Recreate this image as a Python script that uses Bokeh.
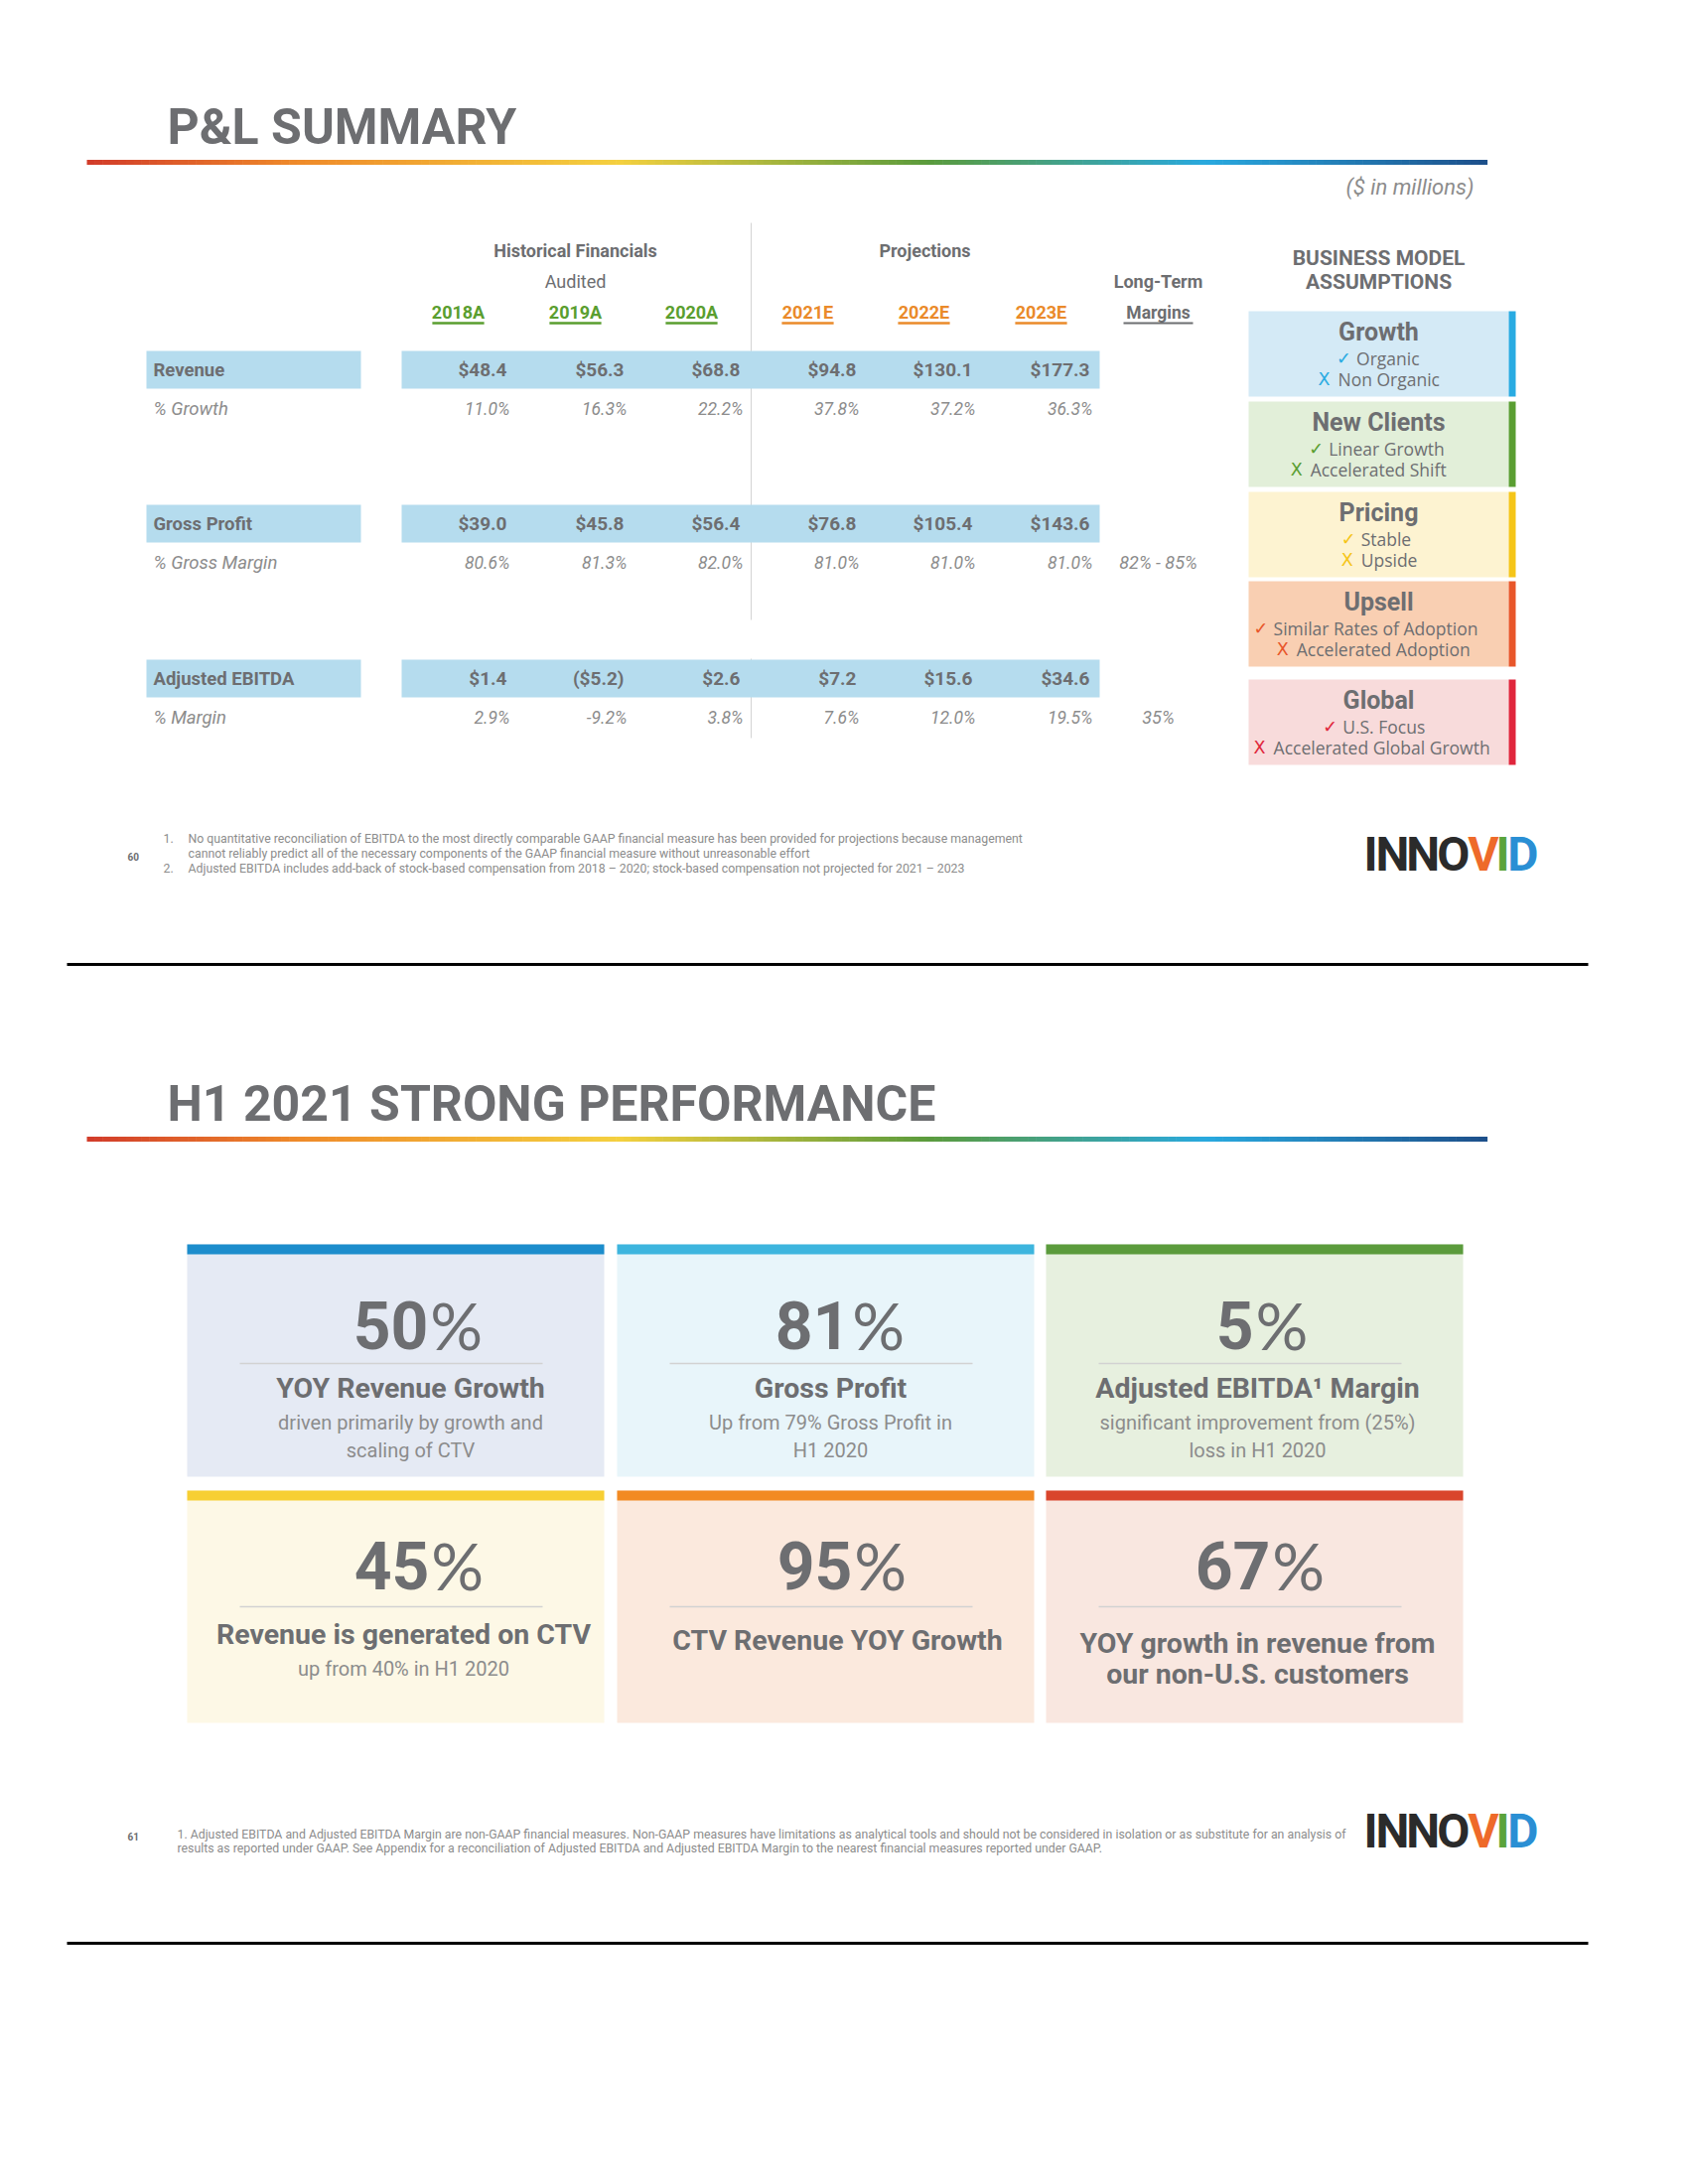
from bokeh.plotting import figure
from bokeh.models import Range1d
from bokeh.embed import file_html
from bokeh.resources import INLINE
from bokeh.core.properties import value

# ---------------- DATA ----------------
years = ["2018A", "2019A", "2020A", "2021E", "2022E", "2023E"]
year_is_actual = [True, True, True, False, False, False]
revenue = [48.4, 56.3, 68.8, 94.8, 130.1, 177.3]
revenue_growth = [11.0, 16.3, 22.2, 37.8, 37.2, 36.3]
gross_profit = [39.0, 45.8, 56.4, 76.8, 105.4, 143.6]
gross_margin = [80.6, 81.3, 82.0, 81.0, 81.0, 81.0]
adj_ebitda = [1.4, -5.2, 2.6, 7.2, 15.6, 34.6]
ebitda_margin = [2.9, -9.2, 3.8, 7.6, 12.0, 19.5]
row_labels = ["Revenue", "Gross Profit", "Adjusted EBITDA"]
sub_labels = ["% Growth", "% Gross Margin", "% Margin"]
long_term = ["", "82% - 85%", "35%"]

assump_titles = ["Growth", "New Clients", "Pricing", "Upsell", "Global"]
assump_yes = ["Organic", "Linear Growth", "Stable", "Similar Rates of Adoption", "U.S. Focus"]
assump_no = ["Non Organic", "Accelerated Shift", "Upside", "Accelerated Adoption", "Accelerated Global Growth"]

kpi_values = [50, 81, 5, 45, 95, 67]
kpi_heads = [["YOY Revenue Growth"], ["Gross Profit"], ["Adjusted EBITDA\u00b9 Margin"],
             ["Revenue is generated on CTV"], ["CTV Revenue YOY Growth"],
             ["YOY growth in revenue from", "our non-U.S. customers"]]
kpi_subs = [["driven primarily by growth and", "scaling of CTV"],
            ["Up from 79% Gross Profit in", "H1 2020"],
            ["significant improvement from (25%)", "loss in H1 2020"],
            ["up from 40% in H1 2020"], [], []]

foot1 = [("1.", "No quantitative reconciliation of EBITDA to the most directly comparable GAAP financial measure has been provided for projections because management"),
         ("", "cannot reliably predict all of the necessary components of the GAAP financial measure without unreasonable effort"),
         ("2.", "Adjusted EBITDA includes add-back of stock-based compensation from 2018 \u2013 2020; stock-based compensation not projected for 2021 \u2013 2023")]
foot2 = ["1. Adjusted EBITDA and Adjusted EBITDA Margin are non-GAAP financial measures. Non-GAAP measures have limitations as analytical tools and should not be considered in isolation or as substitute for an analysis of",
         "results as reported under GAAP. See Appendix for a reconciliation of Adjusted EBITDA and Adjusted EBITDA Margin to the nearest financial measures reported under GAAP."]

# ---------------- STYLE ----------------
GRAY = "#6d6e71"
LGRAY = "#8c8c8c"
FONT = "Roboto"
GREEN = "#5a9e2f"
ORANGE = "#ea8a2a"
BAR = "#b5dcee"
assump_bg = ["#d4eaf6", "#e2efd9", "#fdf3d1", "#f9cfb2", "#f8dbdb"]
assump_strip = ["#29abe2", "#5a9e32", "#f5c518", "#e8562a", "#e0263c"]
card_bg = ["#e5eaf4", "#e8f5fa", "#e7f0df", "#fdf8e6", "#fbe9dd", "#f9e7e0"]
card_strip = ["#1c8dcc", "#3db5de", "#5b9b3c", "#f7cf33", "#f28a22", "#d9452c"]
content_dx = [15, 5, 3, 8, 12, 3]
num_dx = [19, 11, 4, 20, 13, 2]
grad_stops = [(0.0, "#d13b2a"), (0.15, "#ef8a2a"), (0.38, "#f4d03f"), (0.6, "#5b9b3c"),
              (0.8, "#29a9df"), (1.0, "#1d4f8a")]

W, H = 1684, 2184
p = figure(width=W, height=H, x_range=Range1d(0, W), y_range=Range1d(H, 0),
           output_backend="svg", toolbar_location=None, min_border=0,
           x_axis_location=None, y_axis_location=None)
p.grid.visible = False
p.outline_line_color = None
p.background_fill_color = "white"
p.border_fill_color = "white"


def txt(x, y, s, size, color=GRAY, style="normal", align="left", font=FONT):
    p.text(x=[x], y=[y], text=[s], text_font=value(font), text_font_size=f"{size}px",
           text_color=color, text_font_style=style, text_align=align, text_baseline="middle")


def est_w(s, fs, k=0.52):
    return len(s) * fs * k


def hexmix(c1, c2, t):
    a = [int(c1[i:i + 2], 16) for i in (1, 3, 5)]
    b = [int(c2[i:i + 2], 16) for i in (1, 3, 5)]
    return "#" + "".join(f"{int(round(a[i] + (b[i] - a[i]) * t)):02x}" for i in range(3))


def gradient_rule(y, x0=87, x1=1497, th=5, n=180):
    lefts, rights, cols = [], [], []
    for i in range(n):
        t = (i + 0.5) / n
        for j in range(len(grad_stops) - 1):
            if grad_stops[j][0] <= t <= grad_stops[j + 1][0]:
                tt = (t - grad_stops[j][0]) / (grad_stops[j + 1][0] - grad_stops[j][0])
                cols.append(hexmix(grad_stops[j][1], grad_stops[j + 1][1], tt))
                break
        lefts.append(x0 + (x1 - x0) * i / n)
        rights.append(x0 + (x1 - x0) * (i + 1) / n + 0.6)
    p.quad(left=lefts, right=rights, top=[y - th / 2] * n, bottom=[y + th / 2] * n,
           fill_color=cols, line_color=None)


def logo(x0, yc, fs=48):
    letters = [("I", .27, "#2b2b2b"), ("N", .70, "#2b2b2b"), ("N", .70, "#2b2b2b"), ("O", .70, "#2b2b2b"),
               ("V", .64, "#ee6a2a"), ("I", .27, "#5aa43c"), ("D", .66, "#2a8fd4")]
    x = x0
    for ch, adv, col in letters:
        txt(x, yc, ch, fs, col, "bold", "left")
        x += adv * fs * 0.92


def fmt_money(v):
    return f"(${abs(v):.1f})" if v < 0 else f"${v:.1f}"


# ================= SLIDE 1 =================
txt(168, 127, "P&L SUMMARY", 50, GRAY, "bold", "left")
gradient_rule(163)
txt(1484, 188, "($ in millions)", 22, LGRAY, "italic", "right")

col_x = [461, 579, 696, 813, 930, 1048]
lt_x = 1166
# vertical divider
p.segment(x0=[756, 756], y0=[224, 663], x1=[756, 756], y1=[624, 743], line_color="#d4d4d4", line_width=1)

txt(579, 252, "Historical Financials", 18, GRAY, "bold", "center")
txt(579, 283, "Audited", 18, GRAY, "normal", "center")
txt(931, 252, "Projections", 18, GRAY, "bold", "center")
txt(lt_x, 283, "Long-Term", 18, GRAY, "bold", "center")
txt(lt_x, 314, "Margins", 17.5, GRAY, "bold", "center")
p.segment(x0=[lt_x - 35], y0=[325], x1=[lt_x + 35], y1=[325], line_color=GRAY, line_width=2)
for i, yl in enumerate(years):
    c = GREEN if year_is_actual[i] else ORANGE
    txt(col_x[i], 314, yl, 18, c, "bold", "center")
    w = est_w(yl, 18, 0.58)
    p.segment(x0=[col_x[i] - w / 2], y0=[325], x1=[col_x[i] + w / 2], y1=[325], line_color=c, line_width=2.5)

row_y = [372, 527, 683]
main_vals = [revenue, gross_profit, adj_ebitda]
pct_vals = [revenue_growth, gross_margin, ebitda_margin]
for r in range(3):
    y = row_y[r]
    p.quad(left=[147], right=[363], top=[y - 19], bottom=[y + 19], fill_color=BAR, line_color=None)
    p.quad(left=[404], right=[1107], top=[y - 19], bottom=[y + 19], fill_color=BAR, line_color=None)
    txt(154, y, row_labels[r], 18.5, GRAY, "bold")
    txt(154, y + 39, sub_labels[r], 18.5, LGRAY, "italic")
    for i in range(6):
        txt(col_x[i] + 49, y, fmt_money(main_vals[r][i]), 19, GRAY, "bold", "right")
        txt(col_x[i] + 52, y + 39, f"{pct_vals[r][i]:.1f}%", 17.5, LGRAY, "italic", "right")
    if long_term[r]:
        txt(lt_x, y + 39, long_term[r], 18, LGRAY, "italic", "center")

# Business model assumptions
bx0, bx1 = 1257, 1519
bcx = (bx0 + bx1) / 2
txt(bcx, 259, "BUSINESS MODEL", 21, GRAY, "bold", "center")
txt(bcx, 283, "ASSUMPTIONS", 21, GRAY, "bold", "center")
box_tops = [313, 404, 495, 585, 684]
BOX_H = 86
for k in range(5):
    t = box_tops[k]
    p.quad(left=[bx0], right=[bx1], top=[t], bottom=[t + BOX_H], fill_color=assump_bg[k], line_color=None)
    p.quad(left=[bx1], right=[bx1 + 7], top=[t], bottom=[t + BOX_H], fill_color=assump_strip[k], line_color=None)
    txt(bcx, t + 21, assump_titles[k], 25, GRAY, "bold", "center")
    for j, (mark, item) in enumerate([("\u2713", assump_yes[k]), ("X", assump_no[k])]):
        fs = 17.5
        tw = est_w(item, fs, 0.53)
        mw = 20
        start = bcx - (tw + mw) / 2
        yy = t + 47 + j * 21
        txt(start, yy, mark, fs, assump_strip[k], "normal", "left", "DejaVu Sans")
        txt(start + mw, yy, item, fs, GRAY, "normal", "left", "Open Sans")

# footnotes slide 1
txt(128, 862, "60", 10, GRAY, "bold")
for i, (num, line) in enumerate(foot1):
    yy = 844 + i * 15
    if num:
        txt(164, yy, num, 12.3, LGRAY)
    txt(189, yy, line, 12.3, LGRAY)
logo(1373, 860)

p.segment(x0=[67], y0=[971], x1=[1599], y1=[971], line_color="black", line_width=3)

# ================= SLIDE 2 =================
txt(168, 1111, "H1 2021 STRONG PERFORMANCE", 50, GRAY, "bold", "left")
gradient_rule(1147)

card_x = [(188, 608), (621, 1041), (1053, 1473)]
card_top = [1253, 1501]
CARD_H = 234
for k in range(6):
    r, c = divmod(k, 3)
    x0, x1 = card_x[c]
    t = card_top[r]
    cx = (x0 + x1) / 2
    p.quad(left=[x0], right=[x1], top=[t], bottom=[t + CARD_H], fill_color=card_bg[k], line_color=None)
    p.quad(left=[x0], right=[x1], top=[t], bottom=[t + 10], fill_color=card_strip[k], line_color=None)
    # big number: bold digits + regular %
    num = str(kpi_values[k])
    fs = 66
    nw = len(num) * 0.57 * fs
    pw = 0.72 * fs
    ncx = cx + num_dx[k]
    split = ncx - (nw + pw) / 2 + nw
    yc = t + (81 if r == 0 else 75)
    txt(split, yc, num, fs, GRAY, "bold", "right")
    txt(split + 2, yc, "%", fs, GRAY, "normal", "left", "Lato")
    dy = t + (120 if r == 0 else 117)
    p.segment(x0=[x0 + 53], y0=[dy], x1=[x1 - 62], y1=[dy], line_color="#d2d2d2", line_width=1.5)
    tcx = cx + content_dx[k]
    heads = kpi_heads[k]
    subs = kpi_subs[k]
    if len(heads) == 2:
        hy = [t + 154, t + 185]
    elif not subs:
        hy = [t + 151]
    else:
        hy = [t + 145]
    for j, h in enumerate(heads):
        txt(tcx, hy[j], h, 28.5, GRAY, "bold", "center")
    for j, s in enumerate(subs):
        txt(tcx, t + 179 + j * 28, s, 20, LGRAY, "normal", "center")

txt(128, 1849, "61", 10, GRAY, "bold")
for i, line in enumerate(foot2):
    txt(178, 1847 + i * 14, line, 12.3, LGRAY)
logo(1373, 1844)

p.segment(x0=[67], y0=[1957], x1=[1599], y1=[1957], line_color="black", line_width=3)

open("out.html", "w").write(file_html(p, INLINE))
